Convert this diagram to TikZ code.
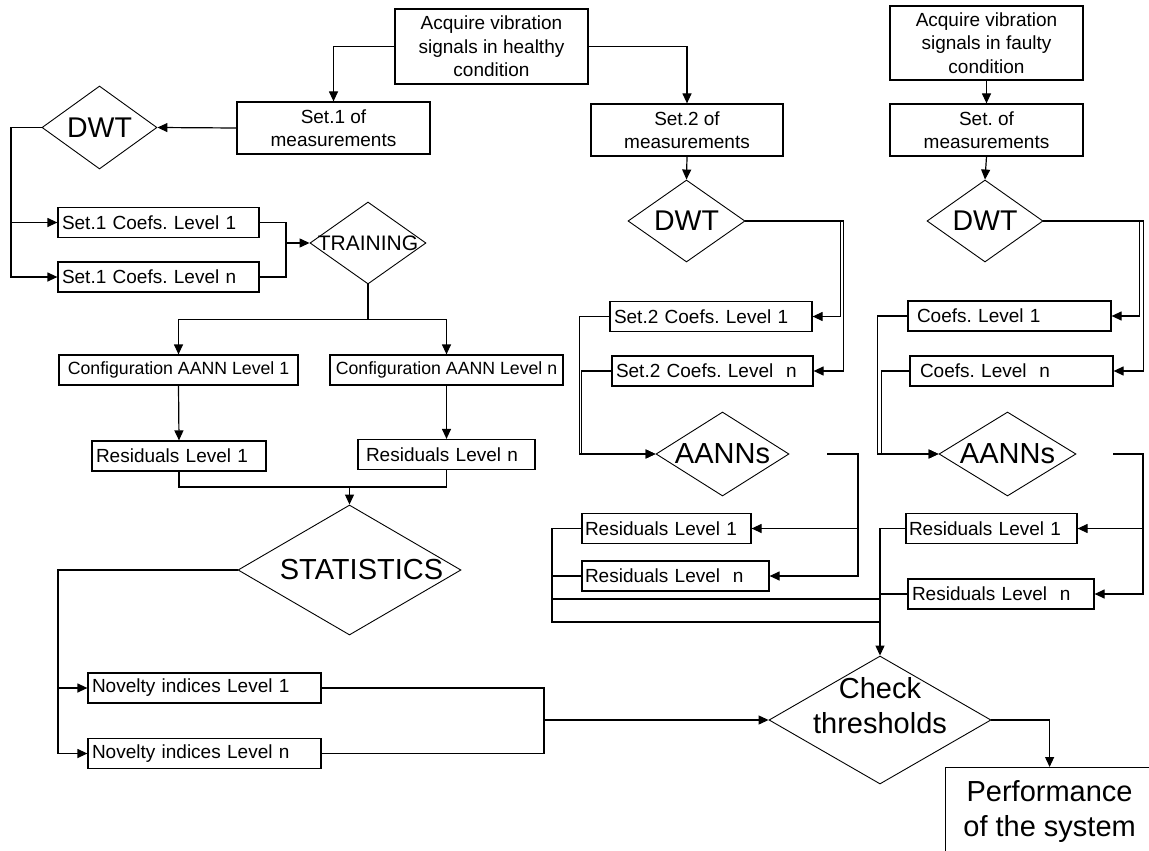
\documentclass[tikz,border=0pt]{standalone}
\usepackage{fontspec}
\setmainfont{Liberation Sans}
\usetikzlibrary{shapes.geometric,arrows.meta}
\frenchspacing
\newcommand{\boxfont}{\fontsize{19}{23.5}\selectfont}
\newcommand{\conffont}{\fontsize{17.7}{21}\selectfont}
\newcommand{\trainfont}{\fontsize{21}{25}\selectfont}
\newcommand{\dwtfont}{\fontsize{28.5}{33}\selectfont}
\newcommand{\bigfont}{\fontsize{29}{35}\selectfont}
\newcommand{\ctr}[1]{\makebox[0pt]{#1}}
\newcommand{\twolines}[2][0pt]{\makebox[0pt]{\raisebox{#1}[0pt][0pt]{\begin{tabular}{@{}c@{}}#2\end{tabular}}}}
\begin{document}
\begin{tikzpicture}[x=1pt, y=-1pt, line width=1.2pt,
    box/.style={draw, line width=1.2pt, inner xsep=4pt, inner ysep=0pt, minimum height=30pt, font=\boxfont},
    lbox/.style={box, align=left, text width=#1},
    cbox/.style={box, align=center, minimum width=#1},
    decision/.style={draw, diamond, line width=0.9pt, inner sep=0pt},
    arr/.style={-{Triangle[length=10pt, width=9pt]}}]
      \useasboundingbox (0,0) rectangle (1149,851);
      \clip (0,0) rectangle (1149,851);
      \draw
        (491.5,46.5) node[cbox=193pt, minimum height=75pt] (healthy) {Acquire vibration\\signals in healthy\\condition}
        (986.5,43) node[cbox=193pt, minimum height=74pt] (faulty) {Acquire vibration\\signals in faulty\\condition}
        (333.5,128) node[cbox=193pt, minimum height=52pt] (set1) {Set.1 of\\measurements}
        (687,130) node[cbox=192pt, minimum height=52pt] (set2) {Set.2 of\\measurements}
        (986.5,130) node[cbox=193pt, minimum height=52pt] (setf) {Set. of\\measurements};
      \draw
        (99.5,127.5) node[decision, minimum width=115pt, minimum height=83pt, font=\dwtfont] (dwt1) {\ctr{DWT}}
        (686.5,221) node[decision, minimum width=117pt, minimum height=82pt, font=\dwtfont] (dwt2) {\ctr{DWT}}
        (985,221) node[decision, minimum width=116pt, minimum height=82pt, font=\dwtfont] (dwt3) {\ctr{DWT}}
        (368,243) node[decision, minimum width=116pt, minimum height=82pt, font=\trainfont] (train) {\ctr{TRAINING}}
        (349.5,570) node[decision, minimum width=223pt, minimum height=130pt, font=\bigfont] (stat) {\ctr{\hspace*{24pt}STATISTICS}}
        (722.5,454) node[decision, minimum width=133pt, minimum height=84pt, font=\bigfont] (aann1) {\ctr{AANNs}}
        (1007.5,454) node[decision, minimum width=137pt, minimum height=84pt, font=\bigfont] (aann2) {\ctr{AANNs}}
        (880,720) node[decision, minimum width=222pt, minimum height=128pt, font=\bigfont] (check) {\twolines[5pt]{Check\\thresholds}}
        (945,767) node[box, anchor=north west, minimum width=208pt, minimum height=120pt, font=\bigfont] (perf) {\twolines[9pt]{Performance\\of the system}};
      \draw
        (158.5,222.5) node[lbox=193pt] (c1a) {Set.1 Coefs. Level 1}
        (158.5,277) node[lbox=193pt] (c1b) {Set.1 Coefs. Level n}
        (178.5,370) node[cbox=239pt, font=\conffont] (conf1) {Configuration AANN Level 1}
        (446.5,370) node[cbox=233pt, font=\conffont] (confn) {Configuration AANN Level n}
        (179,456) node[lbox=166pt] (res1) {Residuals Level 1}
        (446.5,454.5) node[lbox=161pt, inner xsep=8pt] (resn) {Residuals Level n}
        (204.5,688) node[lbox=225pt, inner xsep=4pt] (nov1) {Novelty indices Level 1}
        (204.5,753.5) node[lbox=225pt, inner xsep=4pt] (novn) {Novelty indices Level n}
        (711,316.5) node[lbox=194pt] (c2a) {Set.2 Coefs. Level 1}
        (712.5,371) node[lbox=193pt] (c2b) {Set.2 Coefs. Level\ \ n}
        (1009.5,316) node[lbox=185pt, inner xsep=9pt] (cfa) {Coefs. Level 1}
        (1011.5,371) node[lbox=183pt, inner xsep=10pt] (cfb) {Coefs. Level\ \ n}
        (666.5,528.5) node[lbox=163pt, inner xsep=3pt] (r2a) {Residuals Level 1}
        (675.5,576) node[lbox=181pt, inner xsep=3pt] (r2b) {Residuals Level\ \ n}
        (991.5,528.5) node[lbox=165pt, inner xsep=3pt] (rfa) {Residuals Level 1}
        (1001,594) node[lbox=178pt, inner xsep=4pt] (rfb) {Residuals Level\ \ n};
      \coordinate (j1) at (11,127.5);
      \coordinate (j2) at (286,243);
      \coordinate (j3) at (349.5,487);
      \coordinate (j4) at (58,570);
      \coordinate (j5) at (544,720);
      \coordinate (j6) at (880,599);
      \coordinate (j7) at (880,622);
      \coordinate (j8) at (552,622);
      \coordinate (j9) at (552,599);
      \coordinate (o1) at (827,454);
      \coordinate (o2) at (1113,454);
      \begin{scope}[arr]
        \draw (healthy.west) -| (set1.north);
        \draw (healthy.east) -| (set2.north);
        \draw (set1.west) to (dwt1.east);
        \draw (dwt1.west) to (j1) |- (c1a.west);
        \draw (j1) |- (c1b.west);
        \draw (j2) to (train.west);
        \draw (train.south) -- ++(0,35) -| (conf1.north);
        \draw (train.south) -- ++(0,35) -| (confn.north);
        \draw (conf1.south) to (res1.north);
        \draw (confn.south) to (resn.north);
        \draw (j3) to (stat.north);
        \draw (stat.west) to (j4) |- (nov1.west);
        \draw (j4) |- (novn.west);
        \draw (j5) to (check.west);
        \draw (check.east) -| (perf.north);
        \draw (set2.south) to (dwt2.north);
        \draw (dwt2.east) -- ++(95,0) |- (c2a.east);
        \draw (dwt2.east) -- ++(98,0) |- (c2b.east);
        \draw (c2a.west) -- ++(-30,0) |- (aann1.west);
        \draw (c2b.west) -- ++(-30,0) |- (aann1.west);
        \draw (o1) -- ++(31,0) |- (r2a.east);
        \draw (o1) -- ++(31,0) |- (r2b.east);
        \draw (faulty.south) to (setf.north);
        \draw (setf.south) to (dwt3.north);
        \draw (dwt3.east) -- ++(96,0) |- (cfa.east);
        \draw (dwt3.east) -- ++(100,0) |- (cfb.east);
        \draw (cfa.west) -- ++(-30,0) |- (aann2.west);
        \draw (cfb.west) -- ++(-28,0) |- (aann2.west);
        \draw (o2) -- ++(30,0) |- (rfa.east);
        \draw (o2) -- ++(30,0) |- (rfb.east);
        \draw (rfa.west) -| (check.north);
      \end{scope}
      \draw (c1a.east) -| (j2) |- (c1b.east);
      \draw (res1.south) |- (j3) -| (resn.south);
      \draw (nov1.east) -| (j5) |- (novn.east);
      \draw (r2a.west) -| (j8) -- (j7);
      \draw (r2b.west) -| (j9) -- (j6);
      \draw (rfb.west) -- (rfb.west -| check.north);
    \end{tikzpicture}
\end{document}
